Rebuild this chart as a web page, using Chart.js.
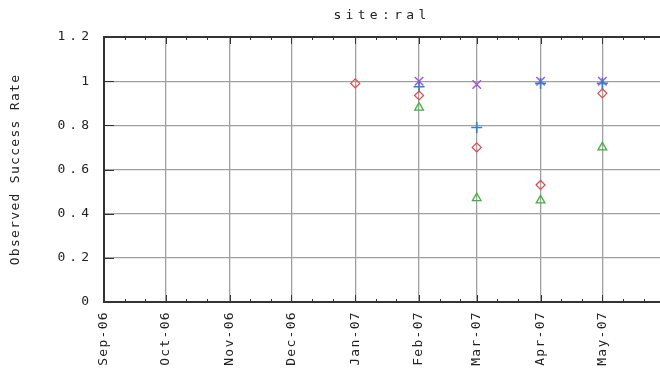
<!DOCTYPE html>
<html>
<head>
<meta charset="utf-8">
<script src="https://cdn.jsdelivr.net/npm/chart.js@4"></script>
<style>
  html, body { margin: 0; padding: 0; background: #fff; }
  #wrap { width: 660px; height: 372px; position: relative; }
</style>
</head>
<body>
<div id="wrap"><canvas id="c"></canvas></div>
<script>
// site:ral — observed success rate per month, one marker shape per series
const MONTH_LABELS = ["Sep-06", "Oct-06", "Nov-06", "Dec-06", "Jan-07", "Feb-07", "Mar-07", "Apr-07", "May-07"];
const MONTH_DATES  = ["2006-09-01", "2006-10-01", "2006-11-01", "2006-12-01", "2007-01-01", "2007-02-01", "2007-03-01", "2007-04-01", "2007-05-01"];
const AXIS_END = "2007-05-29";

const DIAMOND_DATES  = ["2007-01-01", "2007-02-01", "2007-03-01", "2007-04-01", "2007-05-01"];
const DIAMOND_VALUES = [0.99, 0.935, 0.70, 0.53, 0.945];
const PLUS_DATES  = ["2007-02-01", "2007-03-01", "2007-04-01", "2007-05-01"];
const PLUS_VALUES = [0.975, 0.79, 0.99, 0.99];
const CROSS_DATES  = ["2007-02-01", "2007-03-01", "2007-04-01", "2007-05-01"];
const CROSS_VALUES = [1.0, 0.985, 1.0, 1.0];
const TRIANGLE_DATES  = ["2007-02-01", "2007-03-01", "2007-04-01", "2007-05-01"];
const TRIANGLE_VALUES = [0.88, 0.47, 0.46, 0.70];

const Y_TICKS = [0, 0.2, 0.4, 0.6, 0.8, 1, 1.2];

// no date adapter offline: x is "days since Sep 1 2006" on a linear scale
const T0 = Date.UTC(2006, 8, 1);
function dayOf(iso) {
  const p = iso.split("-").map(Number);
  return Math.round((Date.UTC(p[0], p[1] - 1, p[2]) - T0) / 86400000);
}
const MONTH_DAYS = MONTH_DATES.map(dayOf);
// minor ticks on the 11th and 21st of every month
const MINOR_DAYS = [];
MONTH_DATES.forEach(function (d) {
  MINOR_DAYS.push(dayOf(d) + 10, dayOf(d) + 20);
});

function pts(dates, values) {
  return dates.map((d, i) => ({ x: dayOf(d), y: values[i] }));
}

const FONT = "'DejaVu Sans Mono', monospace";
const TEXT = "#222";

// canvas letterSpacing per element, the reference glyphs are widely spaced
function withSpacing(obj, name, sp) {
  const orig = obj[name];
  if (!orig || orig.__spaced) return;
  const wrapped = function () {
    const ctx = this.ctx;
    const prev = ctx.letterSpacing;
    ctx.letterSpacing = sp;
    const r = orig.apply(this, arguments);
    ctx.letterSpacing = prev;
    return r;
  };
  wrapped.__spaced = true;
  obj[name] = wrapped;
}

const spacing = {
  id: "spacing",
  afterLayout(chart) {
    withSpacing(chart.scales.x, "drawLabels", "1.3px");
    withSpacing(chart.scales.y, "drawLabels", "4px");
    withSpacing(chart.scales.y, "drawTitle", "1.3px");
  },
  beforeDraw(chart) {
    chart.ctx.letterSpacing = "4.3px";
  },
};

// gnuplot-style inward tick marks + dark frame
const frame = {
  id: "frame",
  afterDatasetsDraw(chart) {
    const ctx = chart.ctx;
    const a = chart.chartArea;
    const x = chart.scales.x, y = chart.scales.y;
    ctx.save();
    ctx.strokeStyle = "#333";
    ctx.lineWidth = 1;
    ctx.beginPath();
    MONTH_DAYS.forEach(function (d) {
      const px = Math.round(x.getPixelForValue(d)) + 0.5;
      ctx.moveTo(px, a.bottom); ctx.lineTo(px, a.bottom - 7);
      ctx.moveTo(px, a.top); ctx.lineTo(px, a.top + 7);
    });
    MINOR_DAYS.forEach(function (d) {
      if (d > x.max) return;
      const px = Math.round(x.getPixelForValue(d)) + 0.5;
      ctx.moveTo(px, a.bottom); ctx.lineTo(px, a.bottom - 3);
      ctx.moveTo(px, a.top); ctx.lineTo(px, a.top + 3);
    });
    Y_TICKS.forEach(function (v) {
      const py = Math.round(y.getPixelForValue(v)) + 0.5;
      ctx.moveTo(a.left, py); ctx.lineTo(a.left + 10, py);
    });
    ctx.stroke();
    ctx.lineWidth = 2;
    ctx.beginPath();
    ctx.moveTo(a.right, a.top); ctx.lineTo(a.left, a.top);
    ctx.lineTo(a.left, a.bottom); ctx.lineTo(a.right, a.bottom);
    ctx.stroke();
    ctx.restore();
  },
};

function series(label, data, style, color, radius, width) {
  return {
    label: label,
    data: data,
    showLine: false,
    pointStyle: style,
    pointRadius: radius,
    pointHoverRadius: radius,
    pointBorderWidth: width,
    borderColor: color,
    backgroundColor: "rgba(0,0,0,0)",
  };
}

new Chart(document.getElementById("c"), {
  type: "scatter",
  data: {
    datasets: [
      series("diamond", pts(DIAMOND_DATES, DIAMOND_VALUES), "rectRot", "#e04848", 4.5, 1.2),
      series("plus", pts(PLUS_DATES, PLUS_VALUES), "cross", "#3a7fc4", 5.5, 1.6),
      series("cross", pts(CROSS_DATES, CROSS_VALUES), "crossRot", "#a050e0", 6, 1.4),
      series("triangle", pts(TRIANGLE_DATES, TRIANGLE_VALUES), "triangle", "#40b040", 5, 1.3),
    ],
  },
  options: {
    responsive: true,
    maintainAspectRatio: false,
    animation: false,
    layout: { autoPadding: false, padding: { left: 0, right: 0, top: 0, bottom: 0 } },
    scales: {
      x: {
        type: "linear",
        min: 0,
        max: dayOf(AXIS_END),
        afterBuildTicks(scale) {
          scale.ticks = MONTH_DAYS.map(v => ({ value: v }));
        },
        afterFit(scale) {
          scale.height = 70;
          scale.paddingLeft = 0;
          scale.paddingRight = 0;
        },
        ticks: {
          color: TEXT,
          font: { family: FONT, size: 13 },
          minRotation: 90,
          maxRotation: 90,
          autoSkip: false,
          padding: 9,
          callback: function (v) {
            const i = MONTH_DAYS.indexOf(v);
            return i >= 0 ? MONTH_LABELS[i] : "";
          },
        },
        grid: { color: "#a0a0a0", lineWidth: 1.3, drawTicks: false },
        border: { display: false },
      },
      y: {
        min: 0,
        max: 1.2,
        afterBuildTicks(scale) {
          scale.ticks = Y_TICKS.map(v => ({ value: v }));
        },
        afterFit(scale) {
          scale.width = 104;
          scale.paddingTop = 0;
          scale.paddingBottom = 0;
        },
        ticks: {
          color: TEXT,
          font: { family: FONT, size: 13 },
          padding: 11,
          callback: v => String(Number(v.toFixed(1))),
        },
        grid: { color: "#a0a0a0", lineWidth: 1.3, drawTicks: false },
        border: { display: false },
        title: {
          display: true,
          text: "Observed Success Rate",
          color: TEXT,
          font: { family: FONT, size: 13 },
          padding: { top: 8, bottom: 0 },
        },
      },
    },
    plugins: {
      legend: { display: false },
      tooltip: { enabled: false },
      title: {
        display: true,
        fullSize: false,
        text: "site:ral",
        color: TEXT,
        font: { family: FONT, size: 13, weight: "normal", lineHeight: 1 },
        padding: { top: 9, bottom: 15 },
      },
    },
  },
  plugins: [spacing, frame],
});
</script>
</body>
</html>
